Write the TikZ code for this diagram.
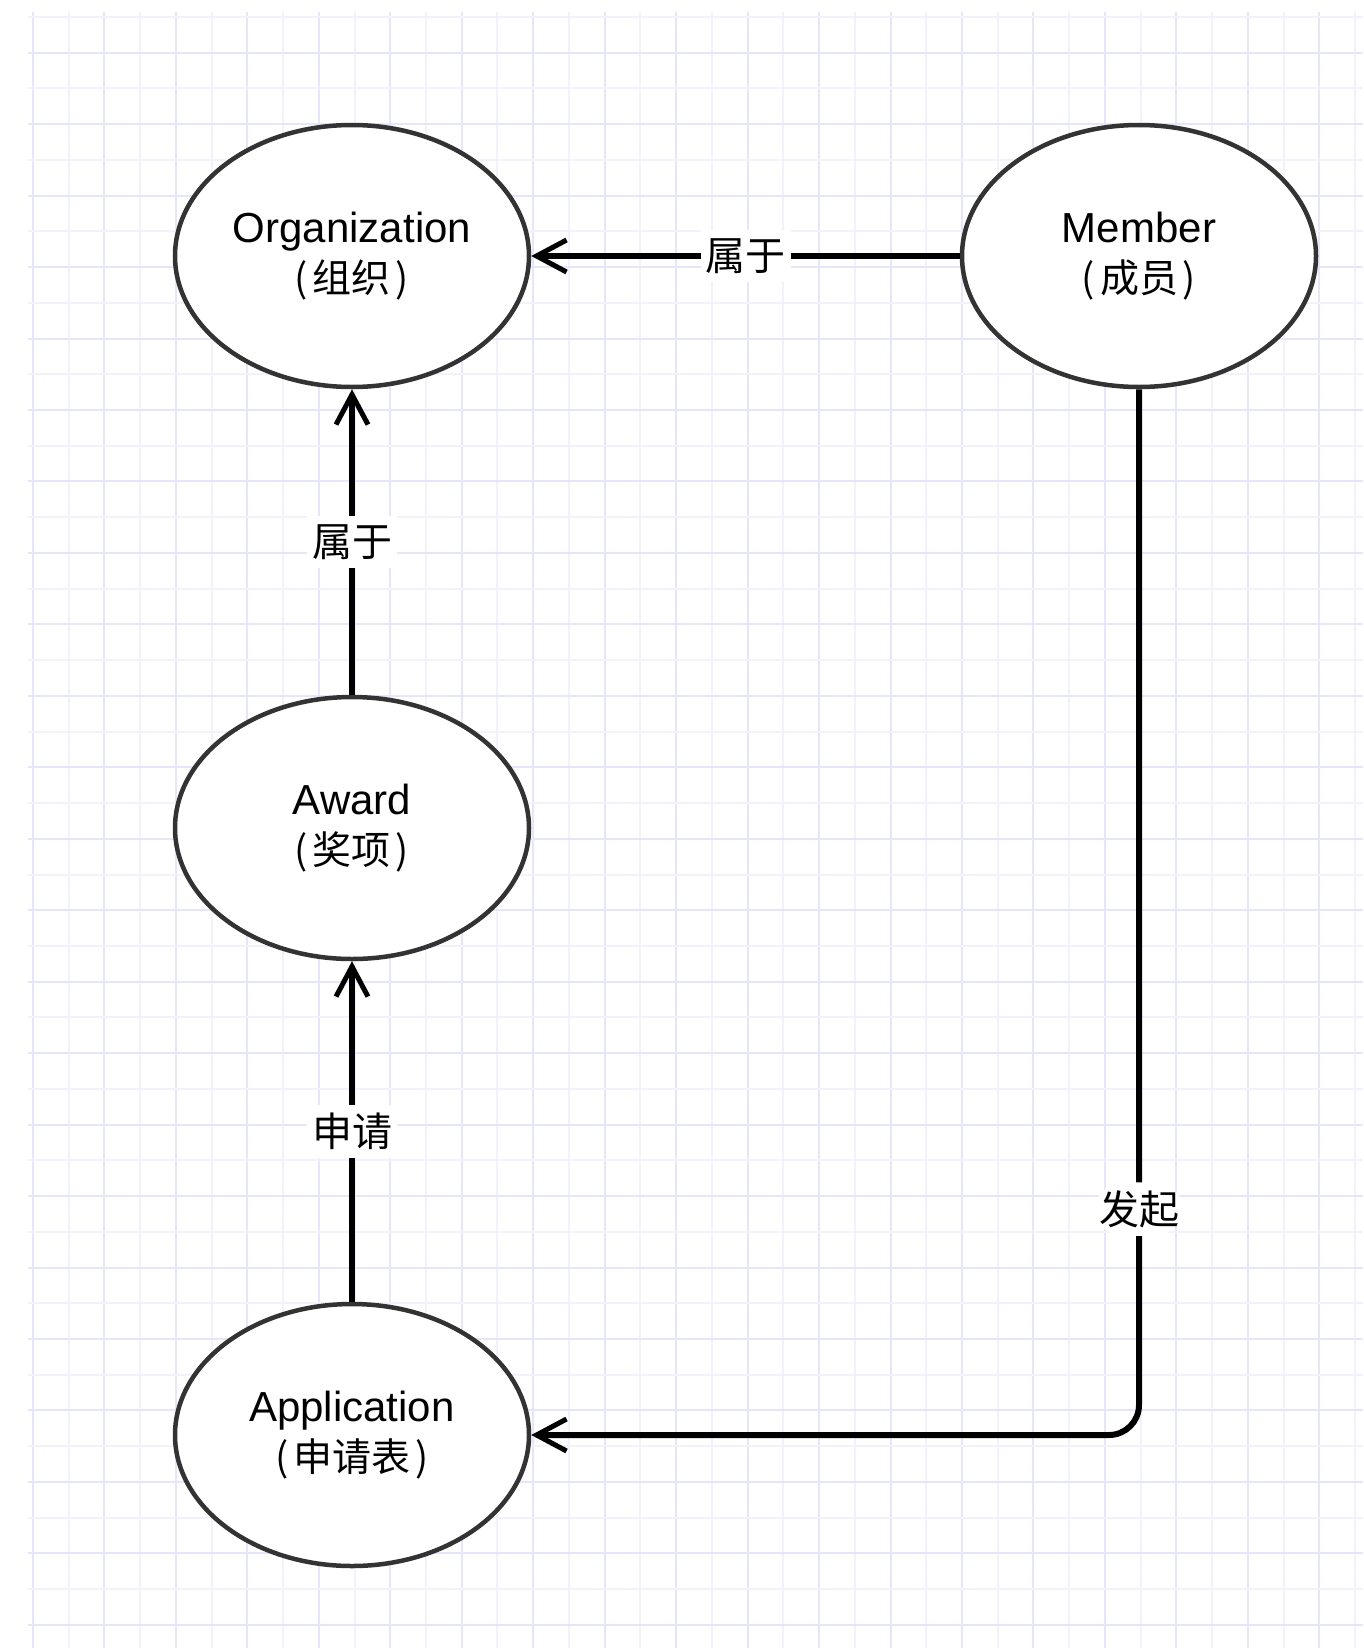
\documentclass[tikz,border=0pt]{standalone}
\usepackage{fontspec}
\setmainfont{Liberation Sans}
\newfontfamily\cjk{Noto Sans CJK SC}
\usetikzlibrary{shapes.geometric,arrows.meta}
\definecolor{gridA}{RGB}{230,230,250}
\definecolor{gridB}{RGB}{242,242,252}
\definecolor{edgegray}{RGB}{51,51,51}
\tikzset{
  entity/.style={ellipse, draw=edgegray, line width=4.5pt, fill=white,
    minimum width=354pt, minimum height=262pt, inner sep=0pt, align=center,
    font=\fontsize{42}{50}\selectfont},
  conn/.style={draw=black, line width=6pt,
    -{Straight Barb[length=30pt,width=32pt,line width=5pt]}},
  lbl/.style={fill=white, font=\cjk\fontsize{40}{48}\selectfont,
    inner xsep=5pt, inner ysep=8pt},
  gridline/.style={line width=2pt}
}
\newcommand{\cjkline}[1]{{\cjk\fontsize{39}{50}\selectfont(\kern5pt #1\kern5pt)}}
\begin{document}
\begin{tikzpicture}[x=1pt,y=-1pt]
  \useasboundingbox[fill=white] (0,0) rectangle (1363,1648);
  % grid
  \foreach \k in {0,...,37}{
    \pgfmathsetmacro{\gx}{33+35.73*\k}
    \pgfmathparse{mod(\k,2)==0 ? 1 : 0}
    \ifnum\pgfmathresult=1
      \draw[gridline,gridA] (\gx,12) -- (\gx,1648);
    \else
      \draw[gridline,gridB] (\gx,12) -- (\gx,1648);
    \fi
  }
  \foreach \k in {0,...,45}{
    \pgfmathsetmacro{\gy}{17+35.73*\k}
    \pgfmathparse{mod(\k,2)==1 ? 1 : 0}
    \ifnum\pgfmathresult=1
      \draw[gridline,gridA] (28,\gy) -- (1363,\gy);
    \else
      \draw[gridline,gridB] (28,\gy) -- (1363,\gy);
    \fi
  }
  % entities
  \node[entity] (org) at (352,256) {Organization\\\cjkline{组织}};
  \node[entity] (mem) at (1139,256) {Member\\\cjkline{成员}};
  \node[entity] (award) at (352,828) {Award\\\cjkline{奖项}};
  \node[entity] (app) at (352,1435) {Application\\\cjkline{申请表}};
  % connectors
  \draw[conn] (mem.west) -- node[lbl] {属于} (org.east);
  \draw[conn] (award.north) -- node[lbl] {属于} (org.south);
  \draw[conn] (app.north) -- node[lbl] {申请} (award.south);
  \draw[conn, rounded corners=30pt] (mem.south) |- node[lbl, pos=0.392] {发起} (app.east);
\end{tikzpicture}
\end{document}
